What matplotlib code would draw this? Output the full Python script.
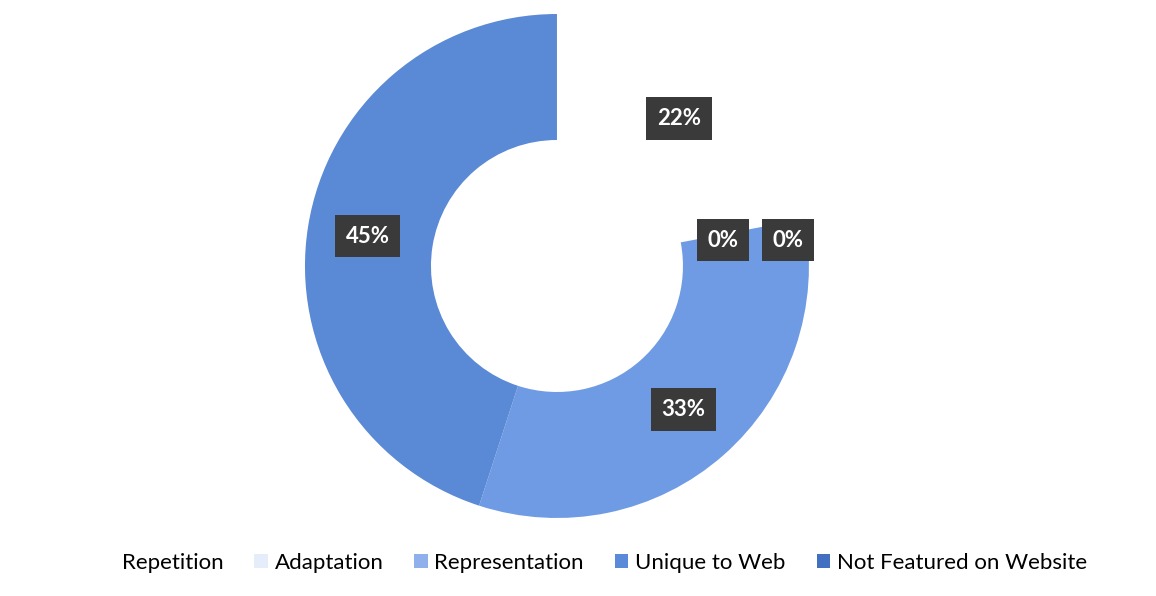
import numpy as np
import matplotlib.pyplot as plt
from matplotlib.patches import Patch

categories = ['Repetition', 'Adaptation', 'Representation', 'Unique to Web', 'Not Featured on Website']
values = [22, 0, 33, 45, 0]
colors = ['#ffffff', '#dce7f6', '#6e9be3', '#5a89d5', '#3f6dbf']
legend_colors = ['#ffffff', '#e4edf9', '#8fb0ea', '#5b8bd8', '#426fc0']

plt.rcParams['font.family'] = ['Lato', 'DejaVu Sans']

fig = plt.figure(figsize=(11.56, 5.96), dpi=100)
ax = fig.add_axes([0.2638, 0.1309, 0.436, 0.8456])

wedges, _ = ax.pie(values, colors=colors, startangle=90, counterclock=False,
                   radius=1.0, wedgeprops=dict(width=0.5, edgecolor='none'))
ax.set_xlim(-1, 1)
ax.set_ylim(-1, 1)
ax.set_aspect('equal')
ax.axis('off')

# data labels in the middle of the ring; the zero slices share one spot
total = sum(values)
start = 0.0
zero_angle = None
zero_shift = [-0.087, 0.17]
zi = 0
for v in values:
    mid = start + v / total * 360 / 2
    if v == 0:
        if zero_angle is None:
            zero_angle = mid
        mid = zero_angle
    theta = np.deg2rad(90 - mid)
    x = 0.76 * np.cos(theta)
    y = 0.76 * np.sin(theta)
    if v == 0:
        x += zero_shift[zi]
        y -= 0.04
        zi += 1
    ax.text(x, y, f'{v}%', ha='center', va='center', color='white',
            fontsize=16, fontweight='bold',
            bbox=dict(boxstyle='square,pad=0.48', facecolor='#3a3a3a', edgecolor='none'))
    start += v / total * 360

handles = [Patch(facecolor=c, edgecolor='none') for c in legend_colors]
fig.legend(handles, categories, loc='center', bbox_to_anchor=(0.514, 0.055), ncol=5,
           frameon=False, fontsize=16, handlelength=0.6, handleheight=0.6,
           handletextpad=0.3, columnspacing=1.4)

fig.savefig('out.png', dpi=100, facecolor='white')
